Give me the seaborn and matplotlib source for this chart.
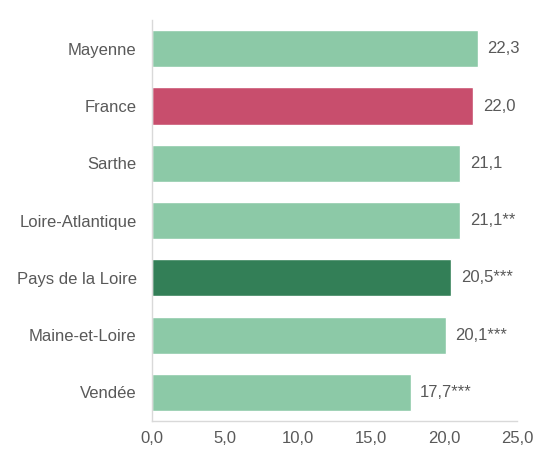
import matplotlib
matplotlib.use("Agg")
import matplotlib.pyplot as plt
import seaborn as sns
import pandas as pd

# values
regions = ["Mayenne", "France", "Sarthe", "Loire-Atlantique", "Pays de la Loire", "Maine-et-Loire", "Vendée"]
values = [22.3, 22.0, 21.1, 21.1, 20.5, 20.1, 17.7]
labels = ["22,3", "22,0", "21,1", "21,1**", "20,5***", "20,1***", "17,7***"]
bar_colors = ["#8CC9A7", "#C84E6D", "#8CC9A7", "#8CC9A7", "#337F57", "#8CC9A7", "#8CC9A7"]
x_ticks = [0, 5, 10, 15, 20, 25]

df = pd.DataFrame({"region": regions, "value": values})

sns.set_style("white")
plt.rcParams["font.family"] = ["Liberation Sans", "DejaVu Sans"]
text_color = "#595959"
fs = 12

fig = plt.figure(figsize=(5.41, 4.55), dpi=100)
ax = fig.add_axes([0.281, 0.0747, 0.675, 0.881])

sns.barplot(data=df, x="value", y="region", hue="region", palette=bar_colors,
            legend=False, width=0.65, saturation=1, ax=ax)

for i, (v, lab) in enumerate(zip(values, labels)):
    ax.text(v + 0.65, i, lab, va="center", ha="left", fontsize=fs, color=text_color)

ax.set_xlim(0, 25)
ax.set_ylim(6.5, -0.5)
ax.set_xticks(x_ticks)
ax.set_xticklabels([f"{t:.1f}".replace(".", ",") for t in x_ticks])
ax.set_xlabel("")
ax.set_ylabel("")
ax.tick_params(axis="both", length=0, labelsize=fs, colors=text_color)
ax.tick_params(axis="x", pad=7)
ax.tick_params(axis="y", pad=11)

for side in ["top", "right"]:
    ax.spines[side].set_visible(False)
for side in ["left", "bottom"]:
    ax.spines[side].set_color("#D9D9D9")
    ax.spines[side].set_linewidth(1)

fig.savefig("out.png", dpi=100)
